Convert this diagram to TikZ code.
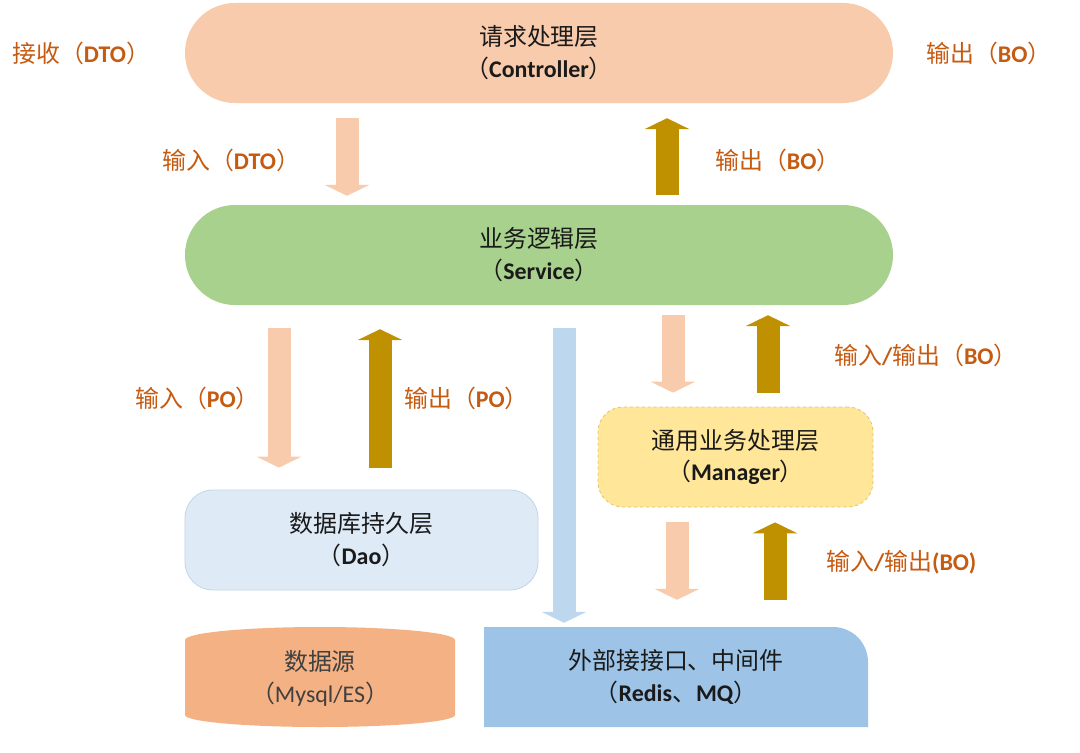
\documentclass[tikz,border=0pt]{standalone}
\usepackage{fontspec}
\setmainfont{Noto Sans CJK SC}
\newfontfamily\latfont{Carlito}
\usetikzlibrary{arrows.meta, positioning, calc}
\definecolor{ctrlpeach}{HTML}{F8CBAD}
\definecolor{svcgreen}{HTML}{A9D18E}
\definecolor{daoblue}{HTML}{DEEBF7}
\definecolor{daoedge}{HTML}{C3D4E8}
\definecolor{mgryellow}{HTML}{FFE699}
\definecolor{mgredge}{HTML}{E3C565}
\definecolor{srcorange}{HTML}{F4B183}
\definecolor{extblue}{HTML}{9DC3E6}
\definecolor{callblue}{HTML}{BDD7EE}
\definecolor{upgold}{HTML}{BF9000}
\definecolor{tagorange}{HTML}{C55A11}
\definecolor{txtdark}{HTML}{1A1A1A}
\definecolor{txtgray}{HTML}{404040}
\newcommand{\en}[1]{{\latfont\bfseries #1}}

\begin{document}
\begin{tikzpicture}[
  x=1bp, y=-1bp,
  layer/.style={align=center, font=\fontsize{24}{32}\selectfont, text=txtdark, inner sep=0pt},
  pill/.style={layer, rounded corners=49.9bp, minimum height=100bp, minimum width=708bp},
  tag/.style={font=\fontsize{24}{28}\selectfont, text=tagorange, anchor=west, inner sep=0pt},
  flow/.style={line width=23bp, -{Triangle[length=11bp, width=45bp, line width=0pt]}},
]
\useasboundingbox (0,0) rectangle (1080,753);

% ============ Layers ============
\node[pill, fill=ctrlpeach] (ctrl) at (539,53) {请求处理层\\（\en{Controller}）};
\node[pill, fill=svcgreen] (svc) at (539,255) {业务逻辑层\\（\en{Service}）};

\node[layer, fill=daoblue, draw=daoedge, line width=0.8bp, rounded corners=28bp,
      minimum width=353bp, minimum height=100bp] (dao) at (361.5,540)
  {数据库持久层\\（\en{Dao}）};

\node[layer, fill=mgryellow, draw=mgredge, dashed, line width=0.8bp, rounded corners=25bp,
      minimum width=275bp, minimum height=100bp] (mgr) at (735.5,457)
  {通用业务处理层\\（\en{Manager}）};

% data source drum
\fill[srcorange] (185,715) -- (185,640)
  arc[start angle=180, end angle=0, x radius=135bp, y radius=13bp]
  -- (455,715) arc[start angle=0, end angle=-180, x radius=135bp, y radius=12bp] -- cycle;
\node[layer, text=txtgray, minimum width=270bp, minimum height=100bp] (src) at (320,678)
  {数据源\\（{\latfont Mysql/ES}）};

% external services, one round corner
\fill[extblue] (484,727) -- (484,627) -- (833,627)
  arc[start angle=90, end angle=0, radius=35bp] -- (868,727) -- cycle;
\node[layer, minimum width=384bp, minimum height=100bp] (ext) at (676,677)
  {外部接接口、中间件\\（\en{Redis}、\en{MQ}）};

% ============ Labels ============
\node[tag] (recvdto) at (12,53) {接收（\en{DTO}）};
\node[tag] (outbo) at (926,53) {输出（\en{BO}）};
\node[tag] (indto) at (162,160) {输入（\en{DTO}）};
\node[tag] (retbo) at (715,160) {输出（\en{BO}）};
\node[tag] (inpo) at (135,398) {输入（\en{PO}）};
\node[tag] (outpo) at (404,398) {输出（\en{PO}）};
\node[tag] (mgrio) at (834,355) {输入\en{/}输出（\en{BO}）};
\node[tag] (extio) at (826,562) {输入\en{/}输出\en{(BO)}};

% ============ Arrows ============
\coordinate (dtoin) at (347,0);
\coordinate (boout) at (667,0);
\coordinate (poin) at (279,0);
\coordinate (poout) at (380,0);
\coordinate (extcall) at (564,0);
\coordinate (mgrin) at (673,0);
\coordinate (mgrout) at (768,0);
\coordinate (extin) at (677,0);
\coordinate (extout) at (775,0);

\draw[flow, ctrlpeach, shorten <=15bp, shorten >=9bp] (dtoin |- ctrl.south) -- (dtoin |- svc.north);
\draw[flow, upgold, shorten <=10bp, shorten >=15bp] (boout |- svc.north) -- (boout |- ctrl.south);

\draw[flow, ctrlpeach, shorten <=23bp, shorten >=22bp] (poin |- svc.south) -- (poin |- dao.north);
\draw[flow, upgold, shorten <=22bp, shorten >=24bp] (poout |- dao.north) -- (poout |- svc.south);

\draw[flow, callblue, shorten <=23bp, shorten >=4bp] (extcall |- svc.south) -- (extcall |- ext.north);

\draw[flow, ctrlpeach, shorten <=10bp, shorten >=14bp] (mgrin |- svc.south) -- (mgrin |- mgr.north);
\draw[flow, upgold, shorten <=14bp, shorten >=10bp] (mgrout |- mgr.north) -- (mgrout |- svc.south);

\draw[flow, ctrlpeach, shorten <=15bp, shorten >=27bp] (extin |- mgr.south) -- (extin |- ext.north);
\draw[flow, upgold, shorten <=27bp, shorten >=15bp] (extout |- ext.north) -- (extout |- mgr.south);

\end{tikzpicture}
\end{document}
